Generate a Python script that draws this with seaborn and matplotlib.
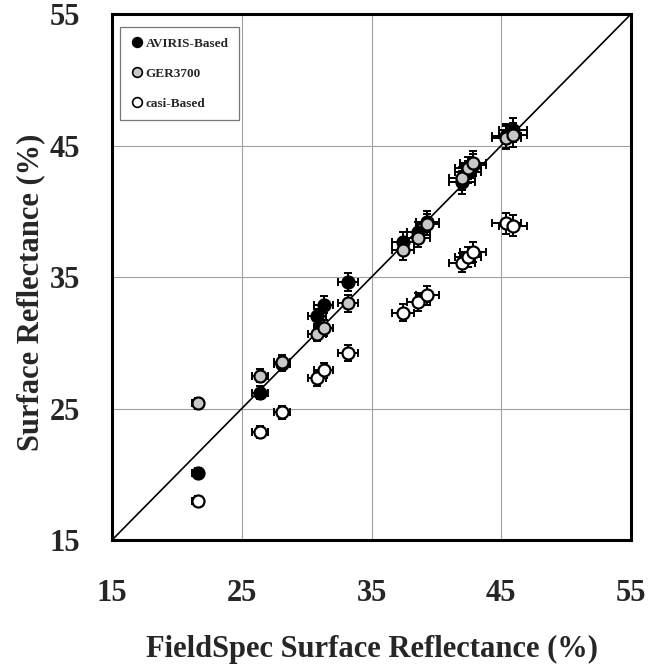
import matplotlib
matplotlib.use("Agg")
import matplotlib.pyplot as plt
from matplotlib.lines import Line2D
import numpy as np
import pandas as pd
import seaborn as sns

# FieldSpec reference reflectance (%) for each target, with its uncertainty
fieldspec = [21.6, 26.4, 28.1, 30.8, 31.3, 33.2, 37.4, 38.6, 39.3, 42.0, 42.4, 42.8, 45.4, 45.9]
fieldspec_err = [0.4, 0.6, 0.65, 0.7, 0.7, 0.75, 0.85, 0.9, 0.9, 1.0, 1.0, 1.0, 1.1, 1.1]

# Sensor-derived surface reflectance (%) and uncertainties
aviris = [20.1, 26.2, 28.4, 32.0, 32.9, 34.6, 37.7, 38.4, 39.2, 42.2, 43.0, 43.5, 45.7, 46.2]
aviris_err = [0.4, 0.5, 0.55, 0.6, 0.65, 0.7, 0.75, 0.75, 0.8, 0.85, 0.85, 0.85, 0.9, 0.9]
ger = [25.4, 27.5, 28.5, 30.7, 31.1, 33.0, 37.05, 38.0, 39.0, 42.5, 43.3, 43.7, 45.6, 45.8]
ger_err = [0.4, 0.5, 0.55, 0.6, 0.6, 0.65, 0.75, 0.75, 0.8, 0.85, 0.85, 0.85, 0.9, 0.9]
casi = [18.0, 23.2, 24.7, 27.3, 27.9, 29.2, 32.3, 33.1, 33.6, 36.1, 36.5, 36.9, 39.1, 38.9]
casi_err = [0.35, 0.45, 0.5, 0.55, 0.55, 0.6, 0.65, 0.65, 0.7, 0.75, 0.75, 0.75, 0.8, 0.8]

sensor_names = ["AVIRIS-Based", "GER3700", "casi-Based"]
sensor_fill = {"AVIRIS-Based": "black", "GER3700": "#c8c8c8", "casi-Based": "white"}

df = pd.concat([
    pd.DataFrame({"FieldSpec": fieldspec, "xerr": fieldspec_err,
                  "Surface": vals, "yerr": errs, "sensor": name})
    for name, vals, errs in zip(sensor_names, [aviris, ger, casi],
                                [aviris_err, ger_err, casi_err])
], ignore_index=True)

sns.set_style("white")
plt.rcParams["font.family"] = ["Liberation Serif", "DejaVu Serif"]
plt.rcParams["font.weight"] = "bold"

fig, ax = plt.subplots(figsize=(6.49, 6.68), dpi=100)
fig.subplots_adjust(left=0.1726, right=0.9723, top=0.979, bottom=0.1916)

ax.set_xlim(15, 55)
ax.set_ylim(15, 55)
ticks = [15, 25, 35, 45, 55]
ax.set_xticks(ticks)
ax.set_yticks(ticks)
ax.grid(True, color="#a0a0a0", linewidth=0.8)
ax.set_axisbelow(True)

# 1:1 line
ax.plot([15, 55], [15, 55], color="black", linewidth=1.2, zorder=2)

for name in sensor_names:
    sub = df[df["sensor"] == name]
    ax.errorbar(sub["FieldSpec"], sub["Surface"], xerr=sub["xerr"], yerr=sub["yerr"],
                fmt="none", ecolor="black", elinewidth=1.4, capsize=3.2,
                capthick=1.4, zorder=3)
    sns.scatterplot(data=sub, x="FieldSpec", y="Surface", ax=ax,
                    color=sensor_fill[name], edgecolor="black", linewidth=1.6,
                    s=75, legend=False, zorder=4)

for side in ax.spines.values():
    side.set_visible(True)
    side.set_color("black")
    side.set_linewidth(2.2)

ax.tick_params(axis="both", direction="out", length=8, width=0.8, color="#888888",
               labelsize=22)
ax.tick_params(axis="x", pad=20)
ax.tick_params(axis="y", pad=15)
for lab in ax.get_xticklabels() + ax.get_yticklabels():
    lab.set_fontweight("bold")

ax.set_xlabel("FieldSpec Surface Reflectance (%)", fontsize=22, fontweight="bold")
ax.set_ylabel("Surface Reflectance (%)", fontsize=22, fontweight="bold")
ax.xaxis.set_label_coords(0.5, -0.18)
ax.yaxis.set_label_coords(-0.128, 0.47)

handles = [Line2D([0], [0], marker="o", linestyle="none", markersize=7,
                  markerfacecolor=sensor_fill[n], markeredgecolor="black",
                  markeredgewidth=1.2, label=n) for n in sensor_names]
leg = ax.legend(handles=handles, loc="upper left",
                bbox_to_anchor=(8 / 519, 1 - 13 / 526), borderaxespad=0,
                frameon=True, fancybox=False, edgecolor="#555555",
                prop={"size": 9.5, "weight": "bold"}, labelspacing=1.35,
                handletextpad=0.15, handlelength=1.0, borderpad=0.8)
leg.get_frame().set_linewidth(0.9)

fig.savefig("out.png", dpi=100)
